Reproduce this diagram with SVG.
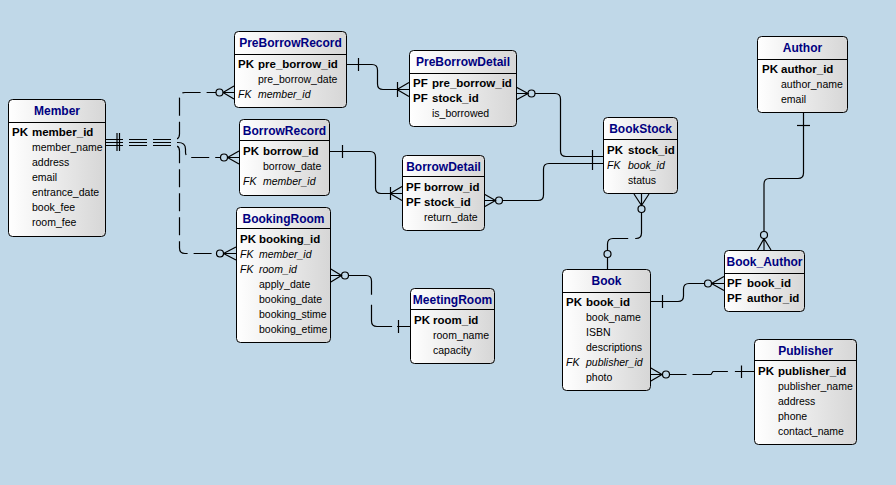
<svg xmlns="http://www.w3.org/2000/svg" width="896" height="485" viewBox="0 0 896 485">
  <defs>
    <linearGradient id="boxFill" x1="0" y1="0" x2="1" y2="0">
      <stop offset="0" stop-color="#ffffff"/>
      <stop offset="1" stop-color="#d6d6d6"/>
    </linearGradient>
    <style>
      .box { fill: url(#boxFill); stroke: #000; stroke-width: 1; }
      .div { stroke: #000; stroke-width: 1; }
      .t { font: bold 12px "Liberation Sans", Arial, sans-serif; fill: #000080; text-anchor: middle; }
      .k { font: bold 11.5px "Liberation Sans", Arial, sans-serif; fill: #000; }
      .a { font: 10.5px "Liberation Sans", Arial, sans-serif; fill: #000; }
      .i { font: italic 10.5px "Liberation Sans", Arial, sans-serif; fill: #000; }
      .ln { fill: none; stroke: #000; stroke-width: 1.2; }
      .dash { stroke-dasharray: 18 6; }
      .o { fill: none; stroke: #000; stroke-width: 1.2; }
    </style>
  </defs>

  <rect width="896" height="485" fill="#c0d8e8"/>

  <!-- relationship lines -->
  <g id="connectors">
    <!-- Member to PreBorrowRecord / BorrowRecord / BookingRoom -->
    <path class="ln dash" d="M105,139.5 H174 Q179.5,139.5 179.5,134 V98 Q179.5,92.5 185,92.5 H216"/>
    <path class="ln dash" d="M105,142.5 H178 Q185.5,142.5 185.5,149 V152 Q185.5,157.5 191,157.5 H220.5"/>
    <path class="ln dash" d="M105,145.5 H174 Q179.5,145.5 179.5,151 V248 Q179.5,253.5 185,253.5 H216.5"/>
    <path class="ln" d="M117,133 V151 M119.5,133 V151"/>
    <circle class="o" cx="219.5" cy="92.5" r="3.5"/>
    <path class="ln" d="M223,92.5 L234,86 M223,92.5 H234 M223,92.5 L234,99"/>
    <circle class="o" cx="224" cy="157.5" r="3.5"/>
    <path class="ln" d="M227.5,157.5 L239,151 M227.5,157.5 H239 M227.5,157.5 L239,164"/>
    <circle class="o" cx="220" cy="253.5" r="3.5"/>
    <path class="ln" d="M223.5,253.5 L236,247 M223.5,253.5 H236 M223.5,253.5 L236,260"/>

    <!-- PreBorrowRecord to PreBorrowDetail -->
    <path class="ln" d="M346,64.5 H372 Q377.5,64.5 377.5,70 V84 Q377.5,89.5 383,89.5 H409"/>
    <path class="ln" d="M358.5,58 V71"/>
    <path class="ln" d="M397,89.5 L409,82.5 M397,89.5 L409,96.5 M397.5,82 V97"/>

    <!-- BorrowRecord to BorrowDetail -->
    <path class="ln" d="M329,151.5 H370 Q375.5,151.5 375.5,157 V188 Q375.5,193.5 381,193.5 H402"/>
    <path class="ln" d="M342.5,145 V158"/>
    <path class="ln" d="M390,193.5 L402,186.5 M390,193.5 L402,200.5 M390.5,187 V200"/>

    <!-- PreBorrowDetail to BookStock -->
    <path class="ln" d="M516,87 L528,93.5 L516,100 M516,93.5 H528"/>
    <circle class="o" cx="531.5" cy="93.5" r="3.5"/>
    <path class="ln" d="M535,93.5 H555 Q560.5,93.5 560.5,99 V151 Q560.5,156.5 566,156.5 H603"/>

    <!-- BorrowDetail to BookStock -->
    <path class="ln" d="M484,194 L495.5,200.5 L484,207 M484,200.5 H495.5"/>
    <circle class="o" cx="499" cy="200.5" r="3.5"/>
    <path class="ln" d="M502.5,200.5 H538 Q543.5,200.5 543.5,195 V169 Q543.5,163.5 549,163.5 H603"/>
    <path class="ln" d="M592.5,150 V170"/>

    <!-- BookStock to Book -->
    <path class="ln" d="M634,194 L641.5,205.5 L649,194 M641.5,194 V205.5"/>
    <circle class="o" cx="641.5" cy="209" r="3.5"/>
    <path class="ln" stroke-dasharray="30 7 100" d="M641.5,212.5 V233 Q641.5,238.5 636,238.5 H613 Q607.5,238.5 607.5,244 V250.5"/>
    <circle class="o" cx="607.5" cy="254" r="3.5"/>
    <path class="ln" d="M607.5,257.5 V269"/>

    <!-- Author to Book_Author -->
    <path class="ln" d="M803.5,113 V173 Q803.5,178.5 798,178.5 H769.5 Q764,178.5 764,184 V231.5"/>
    <path class="ln" d="M797,125.5 H810"/>
    <circle class="o" cx="764" cy="235" r="3.5"/>
    <path class="ln" d="M764,238.5 L757.5,250 M764,238.5 V250 M764,238.5 L771,250"/>

    <!-- Book to Book_Author -->
    <path class="ln" d="M650,301.5 H678 Q683.5,301.5 683.5,296 V289 Q683.5,283.5 689,283.5 H704.5"/>
    <path class="ln" d="M662.5,295 V308"/>
    <circle class="o" cx="708" cy="283.5" r="3.5"/>
    <path class="ln" d="M711.5,283.5 L724,276.5 M711.5,283.5 H724 M711.5,283.5 L724,290.5"/>

    <!-- Book to Publisher -->
    <path class="ln" d="M650,367.5 L662,374.5 L650,381.5 M650,374.5 H662"/>
    <circle class="o" cx="666" cy="374.5" r="3.5"/>
    <path class="ln" stroke-dasharray="17 6 37 7 100" d="M669.5,374.5 H711 L713,371.5 H754"/>
    <path class="ln" d="M741.5,365.5 V378"/>

    <!-- BookingRoom to MeetingRoom -->
    <path class="ln" d="M330,268.5 L341.5,275.5 L330,282.5 M330,275.5 H341.5"/>
    <circle class="o" cx="345" cy="275.5" r="3.5"/>
    <path class="ln" stroke-dasharray="40 10 40 5 100" d="M348.5,275.5 H366 Q371.5,275.5 371.5,281 V321 Q371.5,326.5 377,326.5 H410"/>
    <path class="ln" d="M398.5,320 V333"/>
  </g>

  <!-- entities -->
  <g id="Member">
    <rect class="box" x="8.5" y="99.5" width="97" height="137" rx="4"/>
    <line class="div" x1="8.5" y1="122.5" x2="105.5" y2="122.5"/>
    <text class="t" x="57" y="115">Member</text>
    <text class="k" x="12" y="136">PK</text><text class="k" x="32" y="136">member_id</text>
    <text class="a" x="32" y="151">member_name</text>
    <text class="a" x="32" y="166">address</text>
    <text class="a" x="32" y="181">email</text>
    <text class="a" x="32" y="196">entrance_date</text>
    <text class="a" x="32" y="211">book_fee</text>
    <text class="a" x="32" y="226">room_fee</text>
  </g>

  <g id="PreBorrowRecord">
    <rect class="box" x="234.5" y="31.5" width="112" height="76" rx="4"/>
    <line class="div" x1="234.5" y1="54.5" x2="346.5" y2="54.5"/>
    <text class="t" x="290.5" y="47">PreBorrowRecord</text>
    <text class="k" x="238" y="68">PK</text><text class="k" x="258" y="68">pre_borrow_id</text>
    <text class="a" x="258" y="83">pre_borrow_date</text>
    <text class="i" x="238" y="98">FK</text><text class="i" x="258" y="98">member_id</text>
  </g>

  <g id="BorrowRecord">
    <rect class="box" x="239.5" y="119.5" width="90" height="76" rx="4"/>
    <line class="div" x1="239.5" y1="140.5" x2="329.5" y2="140.5"/>
    <text class="t" x="284.5" y="135">BorrowRecord</text>
    <text class="k" x="243" y="155">PK</text><text class="k" x="263" y="155">borrow_id</text>
    <text class="a" x="263" y="170">borrow_date</text>
    <text class="i" x="243" y="185">FK</text><text class="i" x="263" y="185">member_id</text>
  </g>

  <g id="BookingRoom">
    <rect class="box" x="236.5" y="207.5" width="94" height="135" rx="4"/>
    <line class="div" x1="236.5" y1="228.5" x2="330.5" y2="228.5"/>
    <text class="t" x="283.5" y="223">BookingRoom</text>
    <text class="k" x="240" y="243">PK</text><text class="k" x="259" y="243">booking_id</text>
    <text class="i" x="240" y="258">FK</text><text class="i" x="259" y="258">member_id</text>
    <text class="i" x="240" y="273">FK</text><text class="i" x="259" y="273">room_id</text>
    <text class="a" x="259" y="288">apply_date</text>
    <text class="a" x="259" y="303">booking_date</text>
    <text class="a" x="259" y="318">booking_stime</text>
    <text class="a" x="259" y="333">booking_etime</text>
  </g>

  <g id="MeetingRoom">
    <rect class="box" x="410.5" y="288.5" width="84" height="75" rx="4"/>
    <line class="div" x1="410.5" y1="309.5" x2="494.5" y2="309.5"/>
    <text class="t" x="452.5" y="304">MeetingRoom</text>
    <text class="k" x="414" y="324">PK</text><text class="k" x="433" y="324">room_id</text>
    <text class="a" x="433" y="339">room_name</text>
    <text class="a" x="433" y="354">capacity</text>
  </g>

  <g id="PreBorrowDetail">
    <rect class="box" x="409.5" y="50.5" width="107" height="76" rx="4"/>
    <line class="div" x1="409.5" y1="73.5" x2="516.5" y2="73.5"/>
    <text class="t" x="463" y="66">PreBorrowDetail</text>
    <text class="k" x="413" y="87">PF</text><text class="k" x="432" y="87">pre_borrow_id</text>
    <text class="k" x="413" y="102">PF</text><text class="k" x="432" y="102">stock_id</text>
    <text class="a" x="432" y="117">is_borrowed</text>
  </g>

  <g id="BorrowDetail">
    <rect class="box" x="402.5" y="155.5" width="82" height="75" rx="4"/>
    <line class="div" x1="402.5" y1="176.5" x2="484.5" y2="176.5"/>
    <text class="t" x="443.5" y="171">BorrowDetail</text>
    <text class="k" x="406" y="191">PF</text><text class="k" x="424" y="191">borrow_id</text>
    <text class="k" x="406" y="206">PF</text><text class="k" x="424" y="206">stock_id</text>
    <text class="a" x="424" y="221">return_date</text>
  </g>

  <g id="BookStock">
    <rect class="box" x="603.5" y="117.5" width="74" height="76" rx="4"/>
    <line class="div" x1="603.5" y1="139.5" x2="677.5" y2="139.5"/>
    <text class="t" x="640.5" y="133">BookStock</text>
    <text class="k" x="607" y="154">PK</text><text class="k" x="628" y="154">stock_id</text>
    <text class="i" x="607" y="169">FK</text><text class="i" x="628" y="169">book_id</text>
    <text class="a" x="628" y="184">status</text>
  </g>

  <g id="Author">
    <rect class="box" x="757.5" y="36.5" width="90" height="76" rx="4"/>
    <line class="div" x1="757.5" y1="59.5" x2="847.5" y2="59.5"/>
    <text class="t" x="802.5" y="52">Author</text>
    <text class="k" x="762" y="73">PK</text><text class="k" x="781" y="73">author_id</text>
    <text class="a" x="781" y="88">author_name</text>
    <text class="a" x="781" y="103">email</text>
  </g>

  <g id="Book_Author">
    <rect class="box" x="724.5" y="250.5" width="80" height="61" rx="4"/>
    <line class="div" x1="724.5" y1="273.5" x2="804.5" y2="273.5"/>
    <text class="t" x="764.5" y="266">Book_Author</text>
    <text class="k" x="727" y="287">PF</text><text class="k" x="747" y="287">book_id</text>
    <text class="k" x="727" y="302">PF</text><text class="k" x="747" y="302">author_id</text>
  </g>

  <g id="Book">
    <rect class="box" x="562.5" y="269.5" width="88" height="121" rx="4"/>
    <line class="div" x1="562.5" y1="292.5" x2="650.5" y2="292.5"/>
    <text class="t" x="606.5" y="285">Book</text>
    <text class="k" x="566" y="306">PK</text><text class="k" x="586" y="306">book_id</text>
    <text class="a" x="586" y="321">book_name</text>
    <text class="a" x="586" y="336">ISBN</text>
    <text class="a" x="586" y="351">descriptions</text>
    <text class="i" x="566" y="366">FK</text><text class="i" x="586" y="366">publisher_id</text>
    <text class="a" x="586" y="381">photo</text>
  </g>

  <g id="Publisher">
    <rect class="box" x="754.5" y="339.5" width="102" height="105" rx="4"/>
    <line class="div" x1="754.5" y1="360.5" x2="856.5" y2="360.5"/>
    <text class="t" x="805.5" y="355">Publisher</text>
    <text class="k" x="758" y="375">PK</text><text class="k" x="778" y="375">publisher_id</text>
    <text class="a" x="778" y="390">publisher_name</text>
    <text class="a" x="778" y="405">address</text>
    <text class="a" x="778" y="420">phone</text>
    <text class="a" x="778" y="435">contact_name</text>
  </g>
</svg>
